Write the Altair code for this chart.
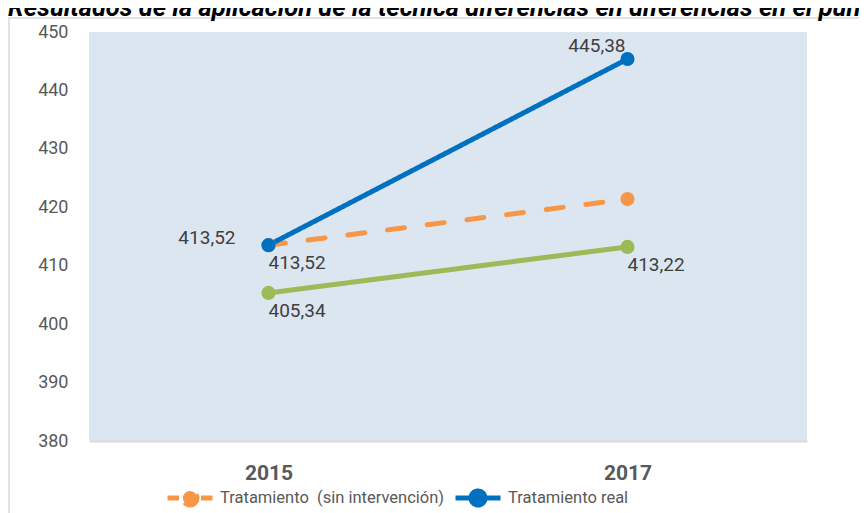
import altair as alt
import pandas as pd

# ---- data ----
years = ["2015", "2017"]
series = ["Tratamiento\u00a0 (sin intervención)", "Tratamiento real", "Control"]
colors = ["#F79646", "#0070C0", "#9BBB59"]
orange_vals = [413.52, 421.40]
blue_vals = [413.52, 445.38]
green_vals = [405.34, 413.22]
# where each point's value label sits ("" = no label)
orange_pos = ["below", ""]
blue_pos = ["left", "above"]
green_pos = ["below", "below"]
y_ticks = [380, 390, 400, 410, 420, 430, 440, 450]
title_text = "Resultados de la aplicación de la técnica diferencias en diferencias en el puntaje"

rows = []
for name, vals, pos in zip(series, [orange_vals, blue_vals, green_vals],
                           [orange_pos, blue_pos, green_pos]):
    for yr, v, p in zip(years, vals, pos):
        rows.append({"serie": name, "year": yr, "value": v, "pos": p,
                     "label": f"{v:.2f}".replace(".", ",")})
df = pd.DataFrame(rows)

FONT = "Roboto"
GRAY = "#595959"

dash_scale = alt.Scale(domain=series, range=[[17, 23], [1, 0], [1, 0]])
color_scale = alt.Scale(domain=series, range=colors)

# line-with-marker legend symbol (unit square). Hidden back-and-forth steps make
# the dashed entry read "dash - dot - dash"; solid entries are unaffected.
legend_symbol = ("M-1,0H-0.489H-0.733H0.222H0.156H-0.222H0.156H-0.189H0.489H1H0.756"
                 "M0.311,0A0.311,0.311,0,1,1,-0.311,0A0.311,0.311,0,1,1,0.311,0")

legend = alt.Legend(
    title=None, orient="none", legendX=76, legendY=441, direction="horizontal",
    columns=2, columnPadding=0, padding=0,
    symbolType=legend_symbol,
    symbolSize=2025, symbolStrokeWidth=5, labelFontSize=16.5, labelColor=GRAY,
    labelFont=FONT, labelOffset=5, labelLimit=400, symbolOpacity=1,
)

x_enc = alt.X("year:N", scale=alt.Scale(type="point", padding=0.5),
              axis=alt.Axis(title=None, labelAngle=0, labelFontSize=21,
                            labelFontWeight="bold", labelColor=GRAY, labelFont=FONT,
                            ticks=False, tickSize=0, labelPadding=21,
                            domainColor="#D9D9D9", domainWidth=2, grid=False))
y_enc = alt.Y("value:Q", scale=alt.Scale(domain=[380, 450], nice=False, zero=False),
              axis=alt.Axis(title=None, values=y_ticks, labelFontSize=18,
                            labelColor=GRAY, labelFont=FONT, ticks=False, tickSize=0,
                            labelPadding=21, domain=False, grid=False))

base = alt.Chart(df).encode(x=x_enc, y=y_enc)

lines = base.mark_line(strokeWidth=5, strokeCap="round").encode(
    color=alt.Color("serie:N", scale=color_scale, legend=legend),
    strokeDash=alt.StrokeDash("serie:N", scale=dash_scale, legend=legend),
)
points = base.mark_circle(size=200, opacity=1).encode(
    color=alt.Color("serie:N", scale=color_scale, legend=legend),
)

txt = dict(fontSize=19, font=FONT, color="#404040")
lab_below = base.transform_filter(alt.datum.pos == "below").mark_text(
    align="left", baseline="top", dy=9, **txt).encode(text="label:N")
lab_left = base.transform_filter(alt.datum.pos == "left").mark_text(
    align="right", baseline="middle", dx=-33, dy=-7, **txt).encode(text="label:N")
lab_above = base.transform_filter(alt.datum.pos == "above").mark_text(
    align="right", baseline="alphabetic", dx=-2, dy=-7, **txt).encode(text="label:N")

one = pd.DataFrame({"t": [title_text]})
border = alt.Chart(one).mark_rect(fillOpacity=0, stroke="#D9D9D9", strokeWidth=1.5).encode(
    x=alt.value(-80), x2=alt.value(900), y=alt.value(-14), y2=alt.value(700))
title = alt.Chart(one).mark_text(
    align="left", baseline="alphabetic", fontSize=25.5, fontWeight="bold",
    fontStyle="italic", font=FONT, color="black").encode(
    x=alt.value(-81), y=alt.value(-16), text="t:N")

chart = alt.layer(border, title, lines, points, lab_below, lab_left, lab_above).properties(
    width=718, height=409,
    padding={"left": 81, "top": 24, "right": 52, "bottom": 72},
    autosize=alt.AutoSizeParams(type="none"),
).configure_view(fill="#DCE6F1", strokeWidth=0)

chart.save("out.html", embed_options={"renderer": "svg", "actions": False})
